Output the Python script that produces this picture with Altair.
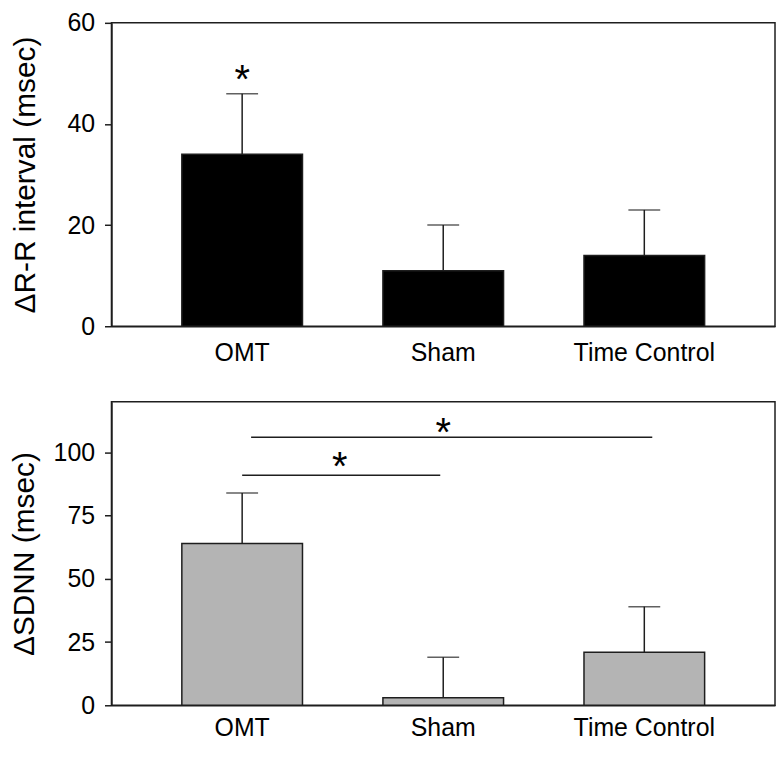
import altair as alt
import pandas as pd

# ---- data ----
groups = ["OMT", "Sham", "Time Control"]
rr_mean = [34, 11, 14]
rr_err = [12, 9, 9]
sdnn_mean = [64, 3, 21]
sdnn_err = [20, 16, 18]

rr_ticks = [0, 20, 40, 60]
sdnn_ticks = [0, 25, 50, 75, 100]

rr_star_group = ["OMT"]
rr_star_y = [50.3]
rr_star_text = ["*"]

sig_from = ["OMT", "OMT"]
sig_to = ["Sham", "Time Control"]
sig_y = [91, 106]
sig_star_group = ["OMT", "Sham"]
sig_star_y = [97.2, 110.8]
sig_star_text = ["*", "*"]

FONT = "Liberation Sans"
INK = "#1e1e1e"
W, H = 667, 305
STAR = dict(font=FONT, fontSize=40, baseline="alphabetic", dy=21, color="black")

xscale = alt.Scale(domain=groups, paddingInner=0.4, paddingOuter=0.35)


def make_panel(mean, err, ymax, yticks, ytitle, fill, title_pad, xlabel_pad):
    df = pd.DataFrame({"group": groups, "mean": mean, "err": err})
    yscale = alt.Scale(domain=[0, ymax], nice=False, zero=True)
    xaxis = alt.Axis(title=None, labelAngle=0, ticks=False, labelPadding=xlabel_pad)
    yaxis = alt.Axis(title=ytitle, values=yticks, titlePadding=title_pad, grid=False)

    def X(field):
        return alt.X(f"{field}:N", scale=xscale, axis=xaxis, title=None)

    def Y(field):
        return alt.Y(f"{field}:Q", scale=yscale, axis=yaxis, title=ytitle)

    base = alt.Chart(df).transform_calculate(top="datum.mean + datum.err")
    bars = base.mark_bar(fill=fill, stroke=INK, strokeWidth=1.5).encode(x=X("group"), y=Y("mean"))
    stem = base.mark_rule(color=INK, strokeWidth=1.5).encode(x=X("group"), y=Y("mean"), y2="top:Q")
    cap = base.mark_tick(color=INK, size=32, thickness=1.5, orient="horizontal").encode(
        x=X("group"), y=Y("top")
    )
    return [bars, stem, cap], X, Y


# ---- top panel ----
top_layers, Xt, Yt = make_panel(rr_mean, rr_err, 60, rr_ticks, "ΔR-R interval (msec)", "black", 27, 14)
star_top = alt.Chart(
    pd.DataFrame({"group": rr_star_group, "y": rr_star_y, "t": rr_star_text})
).mark_text(**STAR).encode(x=Xt("group"), y=Yt("y"), text="t:N")
top = alt.layer(*top_layers, star_top).properties(width=W, height=H)

# ---- bottom panel ----
bot_layers, Xb, Yb = make_panel(sdnn_mean, sdnn_err, 120, sdnn_ticks, "ΔSDNN (msec)", "#b4b4b4", 14, 10)
sig = pd.DataFrame({"from": sig_from, "to": sig_to, "y": sig_y,
                    "sg": sig_star_group, "sy": sig_star_y, "t": sig_star_text})
rule_low = alt.Chart(sig.iloc[[0]]).mark_rule(color=INK, strokeWidth=1.5, x2Offset=-3).encode(
    x=Xb("from"), x2="to:N", y=Yb("y")
)
rule_high = alt.Chart(sig.iloc[[1]]).mark_rule(color=INK, strokeWidth=1.5, xOffset=9, x2Offset=8).encode(
    x=Xb("from"), x2="to:N", y=Yb("y")
)
star_low = alt.Chart(sig.iloc[[0]]).mark_text(dx=98, **STAR).encode(
    x=Xb("sg"), y=Yb("sy"), text="t:N"
)
star_high = alt.Chart(sig.iloc[[1]]).mark_text(**STAR).encode(
    x=Xb("sg"), y=Yb("sy"), text="t:N"
)
bottom = alt.layer(*bot_layers, rule_low, rule_high, star_low, star_high).properties(width=W, height=H)

chart = (
    alt.vconcat(top, bottom, spacing=35)
    .properties(padding={"left": 0, "top": 0, "right": 0, "bottom": 0})
    .configure(font=FONT)
    .configure_view(stroke=INK, strokeWidth=1.5)
    .configure_axis(
        domainColor=INK, domainWidth=1.5, tickColor=INK, tickWidth=1.5, tickSize=7,
        labelFont=FONT, labelFontSize=25, labelColor="black", labelPadding=10,
        titleFont=FONT, titleFontSize=30, titleFontWeight="normal", titleColor="black",
    )
)

chart.save("out.html", embed_options={"renderer": "svg", "actions": False})
